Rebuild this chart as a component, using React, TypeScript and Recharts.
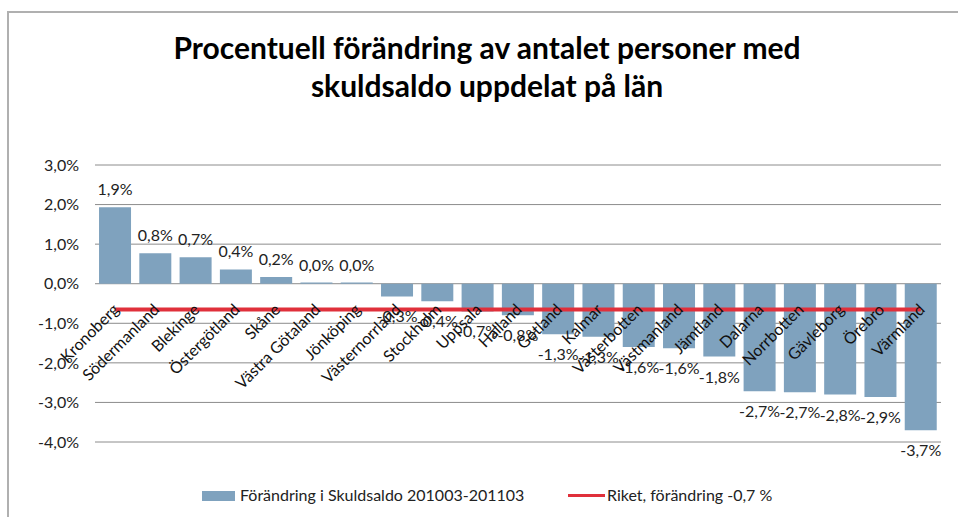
import React from 'react';
import { ComposedChart, Bar, Line, XAxis, YAxis, CartesianGrid, LabelList } from 'recharts';

// län in chart order
const lan = [
  'Kronoberg',
  'Södermanland',
  'Blekinge',
  'Östergötland',
  'Skåne',
  'Västra Götaland',
  'Jönköping',
  'Västernorrland',
  'Stockholm',
  'Uppsala',
  'Halland',
  'Gotland',
  'Kalmar',
  'Västerbotten',
  'Västmanland',
  'Jämtland',
  'Dalarna',
  'Norrbotten',
  'Gävleborg',
  'Örebro',
  'Värmland',
];

// Förändring i Skuldsaldo 201003-201103 (%)
const forandring = [
  1.93, 0.77, 0.67, 0.36, 0.17, 0.03, 0.03, -0.32, -0.44, -0.7, -0.8,
  -1.28, -1.34, -1.6, -1.63, -1.84, -2.72, -2.74, -2.8, -2.86, -3.7,
];

// Riket, förändring
const riket = [
  -0.65, -0.65, -0.65, -0.65, -0.65, -0.65, -0.65, -0.65, -0.65, -0.65, -0.65,
  -0.65, -0.65, -0.65, -0.65, -0.65, -0.65, -0.65, -0.65, -0.65, -0.65,
];

const yTicks = [-4, -3, -2, -1, 0, 1, 2, 3];

const data = lan.map((name, i) => ({ name, value: forandring[i], riket: riket[i] }));

const BAR = '#7FA2BE';
const RED = '#E0303B';
const FONT = 'Lato, "Open Sans", sans-serif';

const fmt = (v: number) => v.toFixed(1).replace('.', ',') + '%';

const ValueLabel = (props: any) => {
  const { x, y, width, height, value } = props;
  const top = Math.min(y, y + height);
  const bottom = Math.max(y, y + height);
  const ty = value >= 0 ? top - 12 : bottom + 26;
  return (
    <text x={x + width / 2} y={ty} textAnchor="middle" fontSize={16} fontFamily={FONT} fill="#222">
      {fmt(value)}
    </text>
  );
};

const NameLabel = (props: any) => {
  const { x, y, width, height, index, value } = props;
  const top = Math.min(y, y + height);
  const bottom = Math.max(y, y + height);
  const zero = data[index].value >= 0 ? bottom : top;
  const ax = x + width / 2 + 5;
  const ay = zero + 27;
  return (
    <text
      x={ax}
      y={ay}
      textAnchor="end"
      fontSize={16}
      fontFamily={FONT}
      fill="#111"
      transform={`rotate(-45 ${ax} ${ay})`}
    >
      {value}
    </text>
  );
};

export default function App() {
  return (
    <div style={{ position: 'absolute', left: 0, top: 0, width: 958, height: 517, background: '#fff' }}>
      <div
        style={{
          position: 'absolute',
          left: 7,
          top: 11,
          width: 951,
          height: 506,
          borderTop: '2px solid #b0b0b0',
          borderLeft: '2px solid #b0b0b0',
          boxSizing: 'border-box',
        }}
      />
      <div
        style={{
          position: 'absolute',
          left: 0,
          top: 28,
          width: 974,
          textAlign: 'center',
          fontFamily: FONT,
          fontWeight: 700,
          fontSize: 30,
          lineHeight: '38px',
          color: '#000',
        }}
      >
        Procentuell förändring av antalet personer med
        <br />
        skuldsaldo uppdelat på län
      </div>
      <div style={{ position: 'absolute', left: 0, top: 0 }}>
        <ComposedChart
          width={958}
          height={517}
          data={data}
          margin={{ top: 165, right: 17, bottom: 75, left: 8 }}
        >
          <CartesianGrid vertical={false} stroke="#8c8c8c" />
          <XAxis dataKey="name" hide />
          <YAxis
            domain={[-4, 3]}
            ticks={yTicks}
            width={87}
            axisLine={false}
            tickLine={false}
            tickSize={0}
            tickMargin={16}
            tickFormatter={fmt}
            tick={{ fontSize: 16, fontFamily: FONT, fill: '#222' }}
            interval={0}
          />
          <Bar dataKey="value" fill={BAR} barCategoryGap="21.5%" isAnimationActive={false}>
            <LabelList dataKey="value" content={ValueLabel} />
            <LabelList dataKey="name" content={NameLabel} />
          </Bar>
          <Line
            dataKey="riket"
            stroke={RED}
            strokeWidth={4}
            dot={false}
            activeDot={false}
            isAnimationActive={false}
          />
        </ComposedChart>
      </div>
      <div
        style={{
          position: 'absolute',
          top: 485,
          left: 0,
          fontFamily: FONT,
          fontSize: 16,
          lineHeight: '20px',
          color: '#222',
        }}
      >
        <div style={{ position: 'absolute', left: 202, top: 6, width: 33, height: 10, background: BAR }} />
        <div style={{ position: 'absolute', left: 240, top: 0, whiteSpace: 'nowrap' }}>
          Förändring i Skuldsaldo 201003-201103
        </div>
        <div style={{ position: 'absolute', left: 568, top: 9, width: 37, height: 3, background: RED }} />
        <div style={{ position: 'absolute', left: 607, top: 0, whiteSpace: 'nowrap' }}>
          Riket, förändring -0,7 %
        </div>
      </div>
    </div>
  );
}
